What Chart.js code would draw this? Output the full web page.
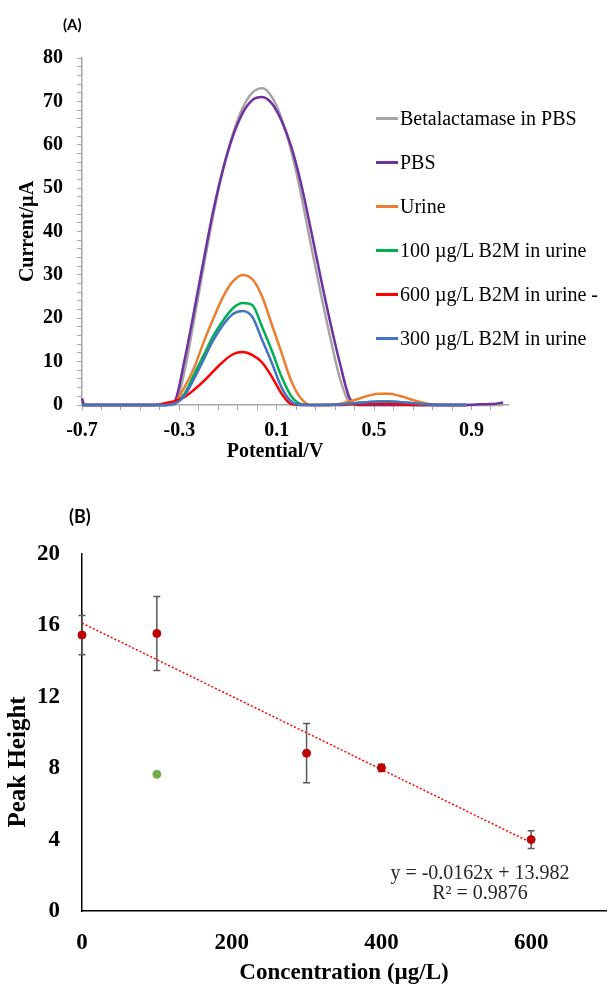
<!DOCTYPE html>
<html>
<head>
<meta charset="utf-8">
<script src="https://cdn.jsdelivr.net/npm/chart.js@4/dist/chart.umd.min.js"></script>
<style>
html,body{margin:0;padding:0;background:#fff;width:611px;height:987px;overflow:hidden;position:relative;}
#cA{position:absolute;left:0;top:0;}
#cB{position:absolute;left:0;top:480px;}
.panel{position:absolute;font-family:Lato,'Liberation Sans',sans-serif;font-weight:bold;color:#000;line-height:1;}
.ttl{position:absolute;width:200px;text-align:center;font-family:'Liberation Serif','Times New Roman',serif;font-weight:bold;color:#000;white-space:nowrap;}
#legend{position:absolute;left:376px;top:96px;font-family:'Liberation Serif','Times New Roman',serif;font-size:20px;color:#000;}
.li{height:44px;display:flex;align-items:center;white-space:nowrap;}
.sw{display:inline-block;width:22px;height:3px;margin-right:2px;}
#eq{position:absolute;left:372px;top:862px;width:216px;text-align:center;font-family:'Liberation Serif','Times New Roman',serif;font-size:20px;line-height:20px;color:#262626;}
</style>
</head>
<body>
<canvas id="cA" width="611" height="470"></canvas>
<canvas id="cB" width="611" height="507"></canvas>
<div class="panel" style="left:63px;top:17px;font-size:15px;">(A)</div>
<div class="panel" style="left:69px;top:507px;font-size:18px;">(B)</div>
<div class="ttl" style="left:175px;top:438px;font-size:20px;line-height:24px;">Potential/V</div>
<div class="ttl" style="left:-83px;top:747px;font-size:25px;line-height:30px;transform:rotate(-90deg);transform-origin:50% 50%;">Peak Height</div>
<div id="legend"></div>
<div id="eq">y = -0.0162x + 13.982<br>R² = 0.9876</div>
<script>
// ---------- Panel A data ----------
const potential = [-0.7,-0.69,-0.6,-0.5,-0.44,-0.4,-0.36,-0.32,-0.28,-0.24,-0.2,-0.16,-0.12,-0.08,-0.04,0,0.04,0.08,0.12,0.16,0.2,0.24,0.28,0.32,0.36,0.4,0.44,0.48,0.52,0.56,0.6,0.64,0.68,0.72,0.76,0.8,0.84,0.88,0.92,0.96,1.0,1.03];
const seriesNames = ['Betalactamase in PBS','PBS','Urine','100 µg/L B2M in urine','600 µg/L B2M in urine -','300 µg/L B2M in urine'];
const betalactamasePBS = [0,0,0,0,0,0,0,0,7.5,19.5,32,44,54.5,62.5,68.5,72,73,71,66,58.5,48.5,37,26,15.5,6,0.5,0,0,0,0,0,0,0,0,0,0,0,0,0,0,0,0];
const pbs = [1.5,0,0,0,0,0,0,0.8,10,21.5,33.5,45,54.5,62,67.3,70.3,71,69.5,65.5,59.5,51,40.5,29.5,19,9.5,1.5,0,0,0,0,0,0,0,0,0,0,0,0,0.1,0.2,0.3,0.6];
const urine = [0,0,0,0,0,0,0,0.5,4,8.5,14.5,20,25,28.5,30,29,25,18.5,12,5.5,1.5,0,0,0.1,0.3,0.8,1.5,2.2,2.6,2.6,2.2,1.5,0.8,0.3,0.1,0,0,0,null,null,null,null];
const b2m100 = [0,0,0,0,0,0,0,0.3,2.5,7,11.5,16,19.5,22.3,23.5,23,18,12.5,6.5,2,0.2,0,0,0,0.1,0.3,0.5,0.7,0.8,0.8,0.7,0.5,0.3,0.1,0,0,0,0,null,null,null,null];
const b2m600 = [0,0,0,0,0,0,0.4,0.9,1.8,3.5,5.5,7.8,10,11.7,12.2,11.5,9.8,6.5,2.6,0.2,0,0,0,0,0,0.1,0.2,0.3,0.3,0.3,0.2,0.1,0,0,0,0,0,0,null,null,null,null];
const b2m300 = [0,0,0,0,0,0,0,0.3,2,6,10.5,15,18.5,21,21.7,20.3,15,9.7,4,0.8,0,0,0,0,0.1,0.3,0.5,0.7,0.8,0.8,0.7,0.5,0.3,0.1,0,0,0,0,null,null,null,null];
const xTickValues = [-0.7,-0.62,-0.54,-0.46,-0.38,-0.3,-0.22,-0.14,-0.06,0.02,0.1,0.18,0.26,0.34,0.42,0.5,0.58,0.66,0.74,0.82,0.9,0.98];
const xTickLabels = [-0.7,-0.3,0.1,0.5,0.9];
const yTickLabelsA = [0,10,20,30,40,50,60,70,80];

// ---------- Panel B data ----------
const concentration = [0,100,300,400,600];
const peakHeight = [15.46,15.55,8.84,8.02,4.0];
const peakError = [1.1,2.07,1.66,0.2,0.5];
const outlierConc = [100];
const outlierPeak = [7.66];
const trendConc = [0,600];
const trendPeak = [16.13,3.83];
const concTicks = [0,200,400,600];
const peakTicks = [0,4,8,12,16,20];

// ---------- styles ----------
const seriesColors = ['#A5A5A5','#7030A0','#ED7D31','#00B050','#FF0000','#4472C4'];
const serif = "'Liberation Serif','Times New Roman',serif";
Chart.defaults.font.family = serif;
Chart.defaults.color = '#000';

const seriesValues = [betalactamasePBS,pbs,urine,b2m100,b2m600,b2m300];
const datasetsA = seriesValues.map((vals,i)=>({
  label: seriesNames[i],
  data: potential.map((p,j)=>({x:p,y:vals[j]})),
  borderColor: seriesColors[i],
  backgroundColor: seriesColors[i],
  borderWidth: 2.5,
  pointRadius: 0,
  cubicInterpolationMode: 'monotone',
  spanGaps: false,
  order: seriesValues.length - i,
  clip: false
}));

// HTML legend (real text)
const lg = document.getElementById('legend');
seriesNames.forEach((n,i)=>{
  const d = document.createElement('div'); d.className='li';
  const s = document.createElement('span'); s.className='sw'; s.style.background = seriesColors[i];
  d.appendChild(s); d.appendChild(document.createTextNode(n)); lg.appendChild(d);
});

const near = (arr,v)=>arr.find(t=>Math.abs(t-v)<1e-6);

new Chart(document.getElementById('cA'), {
  type: 'line',
  data: { datasets: datasetsA },
  options: {
    responsive:false, animation:false, devicePixelRatio:1,
    layout:{padding:{top:58,right:103,left:0,bottom:0}},
    plugins:{legend:{display:false},tooltip:{enabled:false}},
    scales:{
      x:{
        type:'linear', min:-0.7, max:1.05,
        afterBuildTicks: s=>{ s.ticks = xTickValues.map(v=>({value:v})); },
        afterFit: s=>{ s.height = 65; },
        ticks:{autoSkip:false,maxRotation:0,padding:9,color:'#000',font:{size:20,weight:'bold'},
          callback:(v)=>{ const t = near(xTickLabels,v); return t===undefined ? '' : String(t); }},
        grid:{drawOnChartArea:false,drawTicks:true,tickLength:5,color:'#A6A6A6'},
        border:{display:true,color:'#A6A6A6',width:1.5},
        title:{display:false,text:'Potential/V'}
      },
      y:{
        min:0, max:80,
        afterFit: s=>{ s.width = 82; },
        ticks:{stepSize:2,autoSkip:false,padding:14,color:'#000',font:{size:20,weight:'bold'},
          callback:(v)=> yTickLabelsA.includes(v) ? String(v) : ''},
        grid:{drawOnChartArea:false,drawTicks:true,tickLength:5,color:'#A6A6A6'},
        border:{display:true,color:'#A6A6A6',width:1.5},
        title:{display:true,text:'Current/µA',color:'#000',font:{size:20,weight:'bold'},padding:{top:16,bottom:0}}
      }
    }
  }
});

const errorBars = {
  id:'errorBars',
  beforeDatasetsDraw(chart){
    const {ctx, scales:{x,y}} = chart;
    ctx.save();
    ctx.strokeStyle = '#595959'; ctx.lineWidth = 1.5;
    concentration.forEach((c,i)=>{
      const px = x.getPixelForValue(c);
      const top = y.getPixelForValue(peakHeight[i]+peakError[i]);
      const bot = y.getPixelForValue(peakHeight[i]-peakError[i]);
      ctx.beginPath();
      ctx.moveTo(px,top); ctx.lineTo(px,bot);
      ctx.moveTo(px-3.5,top); ctx.lineTo(px+3.5,top);
      ctx.moveTo(px-3.5,bot); ctx.lineTo(px+3.5,bot);
      ctx.stroke();
    });
    ctx.restore();
  }
};

new Chart(document.getElementById('cB'), {
  type: 'scatter',
  data: { datasets: [
    { type:'line', label:'Linear trend', data: trendConc.map((c,i)=>({x:c,y:trendPeak[i]})),
      borderColor:'#FF0000', borderWidth:1.5, borderDash:[2,2], pointRadius:0, fill:false, order:3, clip:false },
    { label:'Peak height', data: concentration.map((c,i)=>({x:c,y:peakHeight[i]})),
      backgroundColor:'#C00000', borderColor:'#C00000', pointRadius:4, order:2, clip:false },
    { label:'Outlier', data: outlierConc.map((c,i)=>({x:c,y:outlierPeak[i]})),
      backgroundColor:'#70AD47', borderColor:'#70AD47', pointRadius:4, order:1, clip:false }
  ]},
  plugins:[errorBars],
  options: {
    responsive:false, animation:false, devicePixelRatio:1,
    layout:{padding:{top:74,right:0,left:0,bottom:0}},
    plugins:{legend:{display:false},tooltip:{enabled:false}},
    scales:{
      x:{
        type:'linear', min:0, max:700,
        afterBuildTicks: s=>{ s.ticks = concTicks.map(v=>({value:v})); },
        afterFit: s=>{ s.height = 76; },
        ticks:{autoSkip:false,maxRotation:0,padding:10,color:'#000',font:{size:23,weight:'bold'}},
        grid:{display:false},
        border:{display:true,color:'#000',width:1.5},
        title:{display:true,text:'Concentration (µg/L)',color:'#000',font:{size:23,weight:'bold'},padding:{top:0,bottom:0}}
      },
      y:{
        min:0, max:20,
        afterBuildTicks: s=>{ s.ticks = peakTicks.map(v=>({value:v})); },
        afterFit: s=>{ s.width = 82; },
        ticks:{autoSkip:false,padding:14,color:'#000',font:{size:23,weight:'bold'}},
        grid:{display:false},
        border:{display:true,color:'#000',width:1.5},
        title:{display:false,text:'Peak Height'}
      }
    }
  }
});
</script>
</body>
</html>
